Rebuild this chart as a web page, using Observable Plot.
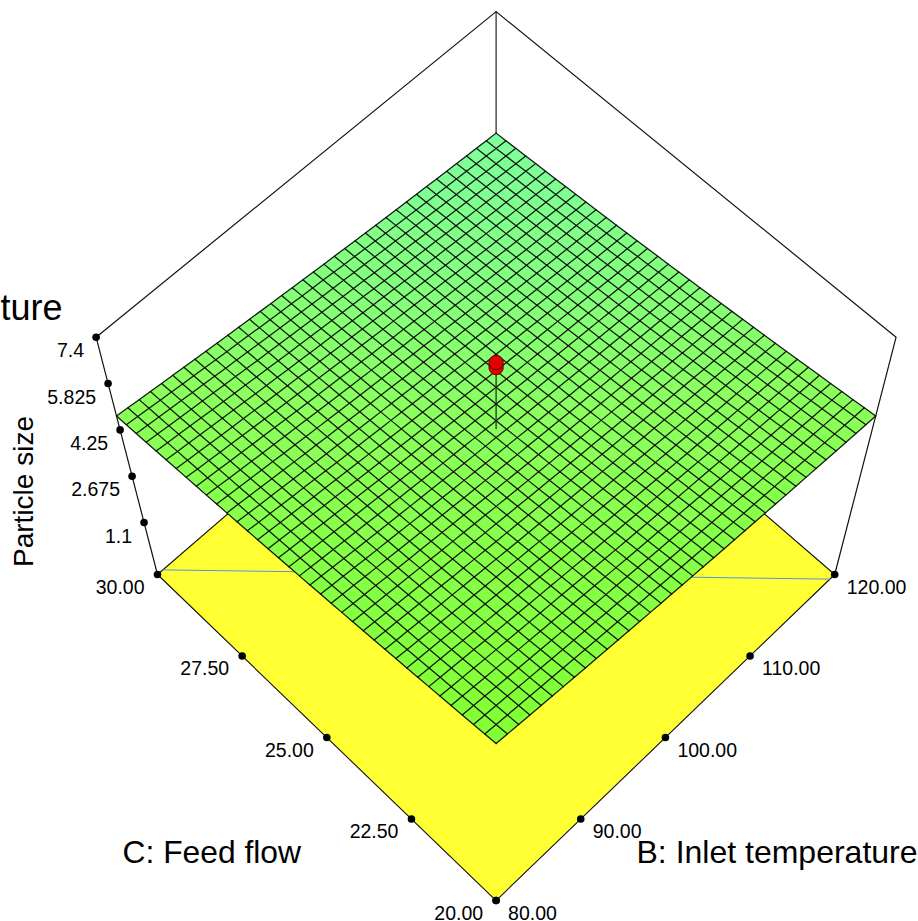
<!DOCTYPE html>
<html>
<head>
<meta charset="utf-8">
<script src="https://cdn.jsdelivr.net/npm/d3@7"></script>
<script src="https://cdn.jsdelivr.net/npm/@observablehq/plot@0.6"></script>
<style>
  html, body { margin: 0; padding: 0; background: #fff; overflow: hidden; }
  svg { display: block; max-width: none !important; }
</style>
</head>
<body>
<div id="chart"></div>
<script>
// Axis ticks
const bTicks = [80, 90, 100, 110, 120];
const cTicks = [20, 22.5, 25, 27.5, 30];
const zTicks = [1.1, 2.675, 4.25, 5.825, 7.4];
const bTickLabels = ["80.00", "90.00", "100.00", "110.00", "120.00"];
const cTickLabels = ["20.00", "22.50", "25.00", "27.50", "30.00"];
const zTickLabels = ["1.1", "2.675", "4.25", "5.825", "7.4"];
const zFloor = -0.665;
const zTop = 7.4;

// Surface: level at the centre of the design,
// and its rise along each factor at the 37 mesh stations.
const surfaceCentre = 4.561;
const surfaceProfileB = [0.553, 0.518, 0.484, 0.450, 0.416, 0.383, 0.351, 0.319, 0.287, 0.256, 0.226, 0.196, 0.166, 0.137, 0.109, 0.081, 0.053, 0.027, 0, -0.026, -0.051, -0.076, -0.101, -0.125, -0.148, -0.171, -0.194, -0.216, -0.237, -0.258, -0.279, -0.299, -0.318, -0.337, -0.356, -0.374, -0.391];
const surfaceProfileC = [0.553, 0.518, 0.484, 0.450, 0.416, 0.383, 0.351, 0.319, 0.287, 0.256, 0.226, 0.196, 0.166, 0.137, 0.109, 0.081, 0.053, 0.027, 0, -0.026, -0.051, -0.076, -0.101, -0.125, -0.148, -0.171, -0.194, -0.216, -0.237, -0.258, -0.279, -0.299, -0.318, -0.337, -0.356, -0.374, -0.391];

// Design points, the foot of their stem, and the contour on the floor
const designB = 100;
const designC = 25;
const designZ = [6.37, 6.54];
const stemFootZ = 4.295;
const contourB = [80.6, 119.4];
const contourC = [30, 20];

// Oblique view of the (B, C, z) box onto the plot's x/y plane
function project(B, C, z) {
  const a = (B - 100) / 20, b = (C - 25) / 5, s = a + b;
  const h = (z - zFloor) / (zTop - zFloor);
  const w = 1 + 0.02737 * s;
  return {
    px: 495.6 + (169.3 + 30.7 * h) * (a - b) / w,
    py: (574 - 237.3 * h - (138.4 + 24.1 * h) * s) / w
  };
}
const lerp = (p, q, t) => ({px: p.px + (q.px - p.px) * t, py: p.py + (q.py - p.py) * t});

const n = surfaceProfileB.length;
const stationB = d3.range(n).map(i => 80 + 40 * i / (n - 1));
const stationC = d3.range(n).map(j => 20 + 10 * j / (n - 1));
const surfaceZ = (i, j) => surfaceCentre + surfaceProfileB[i] + surfaceProfileC[j];
const node = (i, j) => project(stationB[i], stationC[j], surfaceZ(i, j));

// Cells of the surface, each a closed ring with one colour value
const cells = [];
for (let i = 0; i < n - 1; i++) for (let j = 0; j < n - 1; j++) {
  const value = (surfaceZ(i, j) + surfaceZ(i + 1, j) + surfaceZ(i, j + 1) + surfaceZ(i + 1, j + 1)) / 4;
  [[i, j], [i + 1, j], [i + 1, j + 1], [i, j + 1], [i, j]].forEach(([u, v]) =>
    cells.push({...node(u, v), cell: `${i}-${j}`, value}));
}
// Mesh lines
const mesh = [];
for (let i = 0; i < n; i++) for (let j = 0; j < n; j++) {
  mesh.push({...node(i, j), line: `b${i}`});
}
for (let j = 0; j < n; j++) for (let i = 0; i < n; i++) {
  mesh.push({...node(i, j), line: `c${j}`});
}

// Box corners
const front = project(80, 20, zFloor), right = project(120, 20, zFloor),
      left = project(80, 30, zFloor), back = project(120, 30, zFloor);
const topLeft = project(80, 30, zTop), topRight = project(120, 20, zTop), topBack = project(120, 30, zTop);

const floor = [front, right, back, left, front];
const wall = [left, topLeft, topBack, topRight, right];
const backEdge = [back, topBack];

// Ticks sit evenly along the floor edges
const bT = d3.scaleLinear([80, 120], [0, 1]);
const cT = d3.scaleLinear([20, 30], [0, 1]);
const bPoints = bTicks.map((v, k) => ({...lerp(front, right, bT(v)), label: bTickLabels[k]}));
const cPoints = cTicks.map((v, k) => ({...lerp(front, left, cT(v)), label: cTickLabels[k]}));
const zPoints = zTicks.map((v, k) => ({...project(80, 30, v), label: zTickLabels[k]}));

const contour = contourB.map((b, k) => project(b, contourC[k], zFloor));
const stem = [project(designB, designC, stemFootZ), project(designB, designC, designZ[0])];
const design = designZ.map(z => project(designB, designC, z));

const xy = {x: "px", y: "py"};
const tickFont = {fontSize: 19.5, fill: "#000"};
const title = (s, dx, dy, size, extra) => Plot.text([s], {
  text: d => d, frameAnchor: "top-left", dx, dy, fontSize: size, fill: "#000",
  lineAnchor: "middle", textAnchor: "start", ...extra
});

const chart = Plot.plot({
  width: 918,
  height: 921,
  margin: 0,
  style: {fontFamily: "Liberation Sans, Arial, sans-serif", background: "#fff"},
  x: {domain: [0, 918], range: [0, 918], axis: null},
  y: {domain: [0, 921], range: [0, 921], axis: null},
  color: {
    type: "linear",
    domain: [3.78, 4.56, 5, 5.67],
    range: ["#7dff9c", "#8aff5e", "#86ff48", "#82ff33"]
  },
  marks: [
    Plot.line(backEdge, {...xy, stroke: "#222", strokeWidth: 1.2}),
    Plot.line(wall, {...xy, stroke: "#111", strokeWidth: 1.2}),
    Plot.line(floor, {...xy, fill: "#ffff33", stroke: "#111", strokeWidth: 1.1}),
    Plot.line(contour, {...xy, stroke: "#4f94e0", strokeWidth: 1}),
    Plot.line(cells, {...xy, z: "cell", fill: "value", stroke: "value", strokeWidth: 0.6}),
    Plot.line(mesh, {...xy, z: "line", stroke: "#000", strokeWidth: 1.25, strokeOpacity: 0.9}),
    Plot.line(stem, {...xy, stroke: "#222", strokeWidth: 1.2}),
    Plot.dot(design, {...xy, r: 7.2, fill: "#e40000", stroke: "#5a0000", strokeWidth: 1}),
    Plot.dot([...bPoints, ...cPoints, ...zPoints], {...xy, r: 3.8, fill: "#000", stroke: "none"}),
    Plot.text(zPoints, {...xy, text: "label", ...tickFont, textAnchor: "end", dx: -12, dy: 14}),
    Plot.text(cPoints, {...xy, text: "label", ...tickFont, textAnchor: "end", dx: -13, dy: 13}),
    Plot.text(bPoints, {...xy, text: "label", ...tickFont, textAnchor: "start", dx: 12, dy: 13}),
    title("ture", 62, 308, 36, {textAnchor: "end"}),
    title("C: Feed flow", 122, 852, 31.8),
    title("B: Inlet temperature", 636, 852, 32),
    title("Particle size", 24, 491, 28, {textAnchor: "middle", rotate: -90})
  ]
});
document.getElementById("chart").appendChild(chart);
</script>
</body>
</html>
